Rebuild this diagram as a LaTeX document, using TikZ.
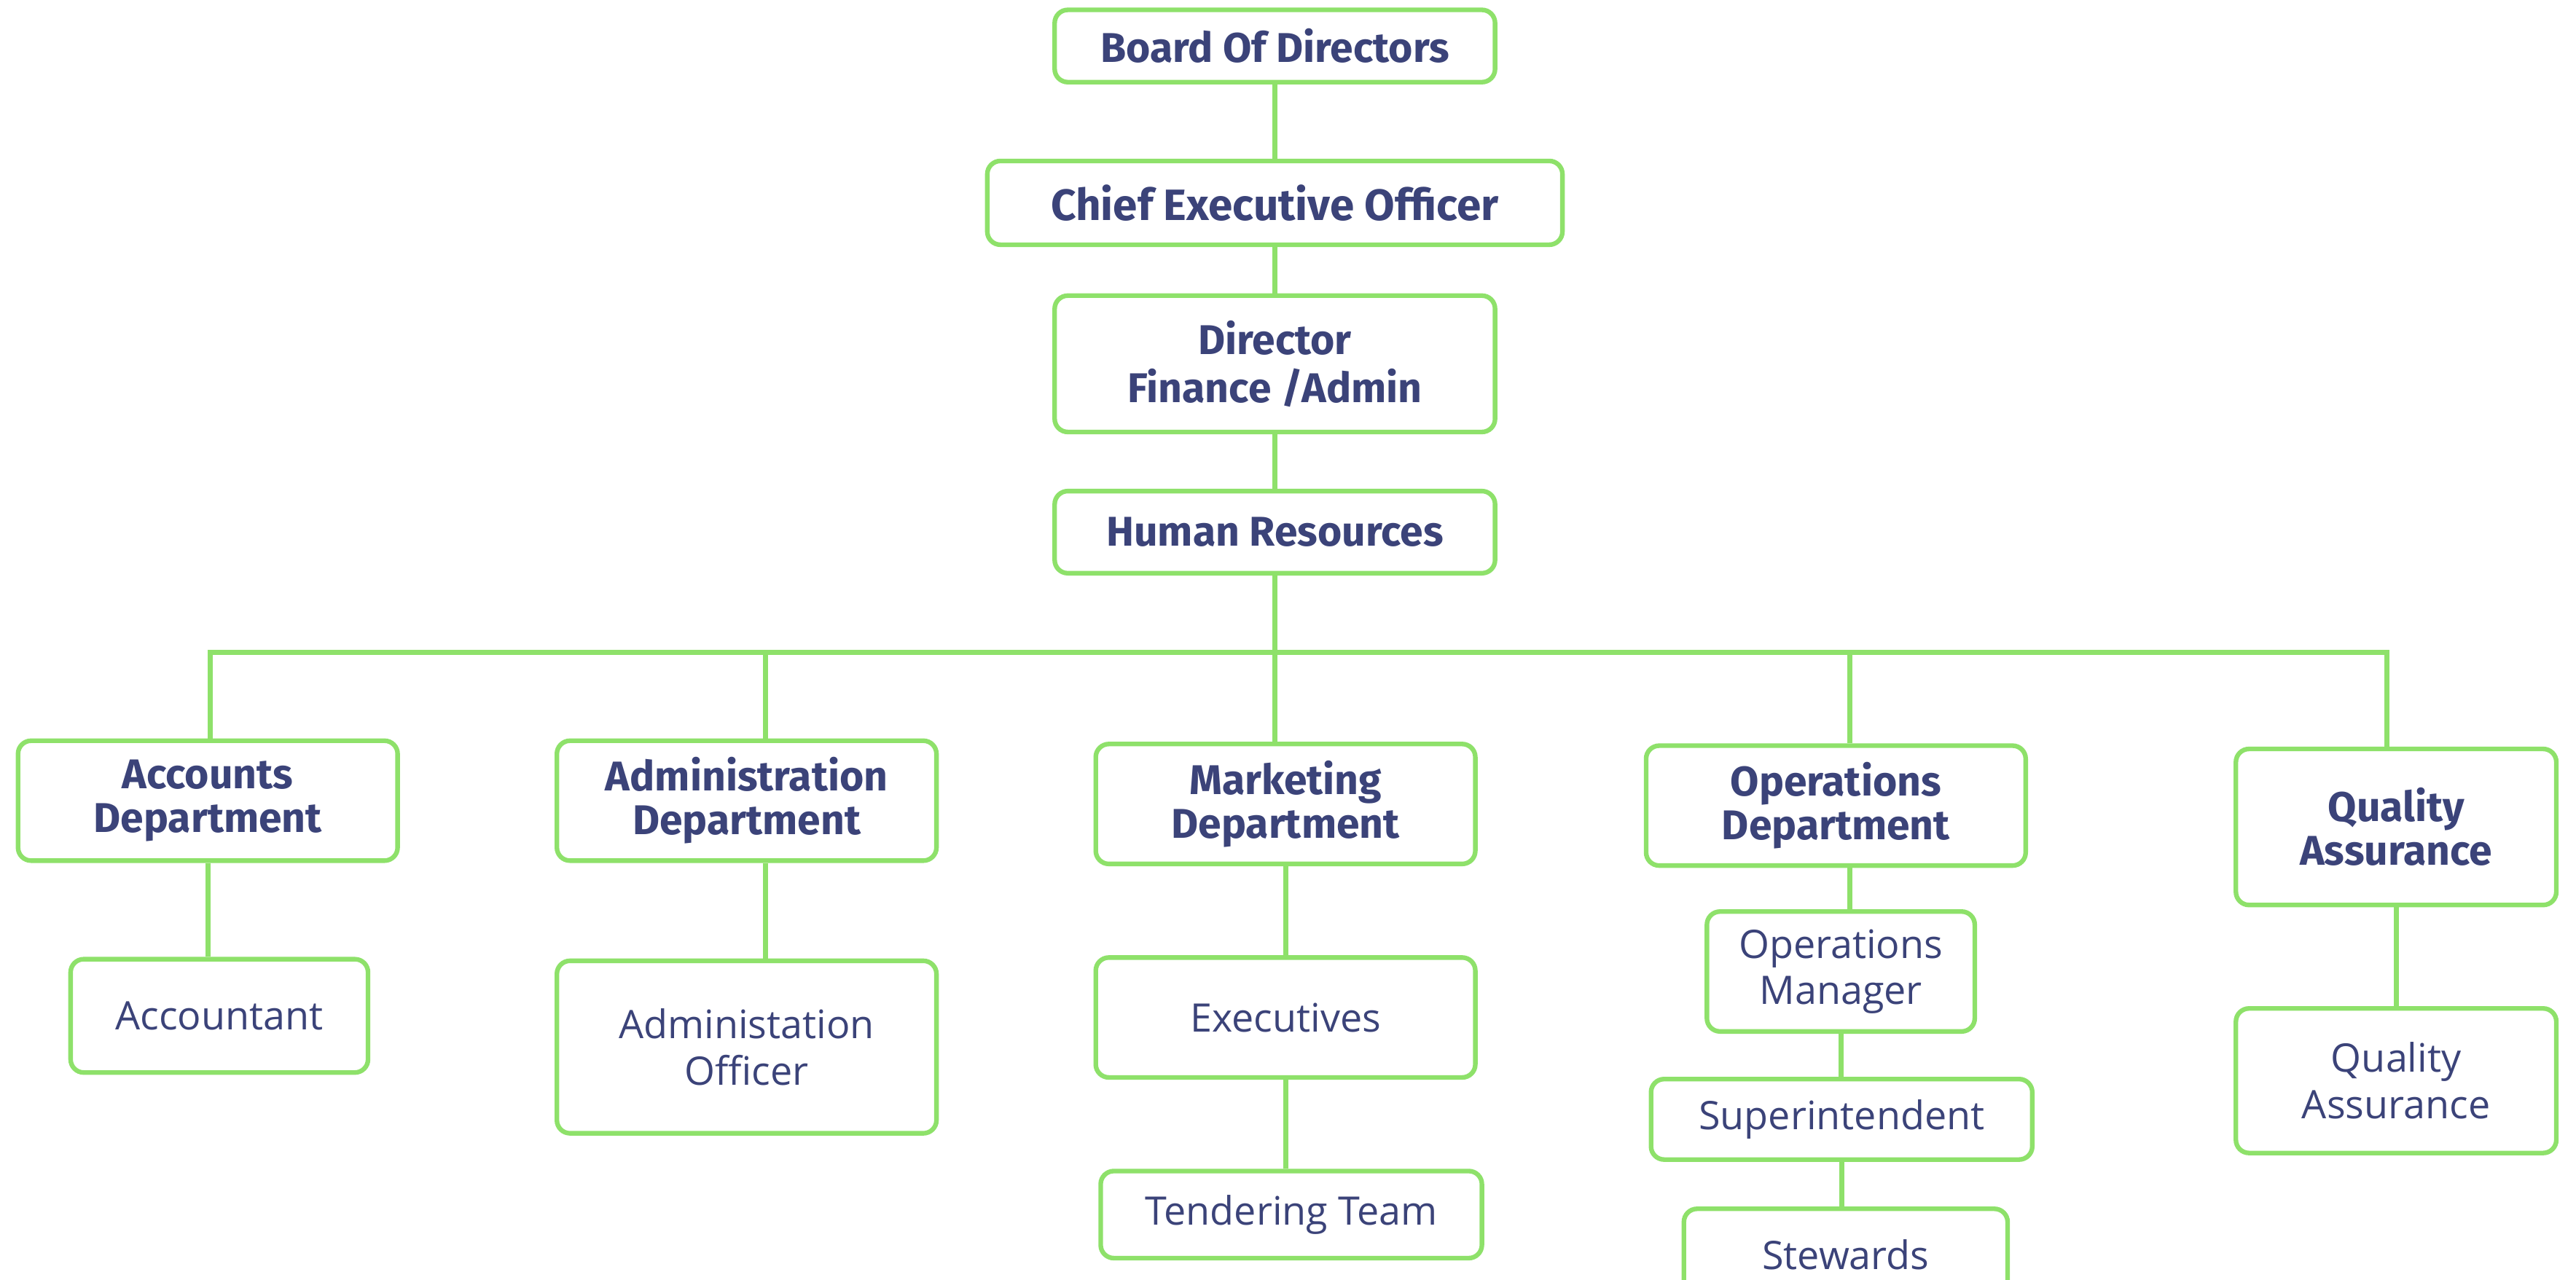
\documentclass[tikz,border=0pt]{standalone}
\usepackage{fontspec}
\setmainfont{Open Sans}
\newfontfamily\headfont{Fira Sans}
\definecolor{leaf}{HTML}{8EE16A}
\definecolor{ink}{HTML}{3B4379}

\begin{document}
\begin{tikzpicture}[x=0.025cm,y=-0.025cm,
    box/.style={draw=leaf,line width=2pt,rounded corners=0.2cm,fill=white,
                text=ink,align=center,inner sep=0pt},
    wh/.style 2 args={minimum width=#1,minimum height=#2},
    head/.style={box,font=\headfont\bfseries\fontsize{18}{19}\selectfont},
    sub/.style={box,font=\fontsize{17}{20}\selectfont},
    link/.style={draw=leaf,line width=2.2pt}
   ]
\useasboundingbox (0,0) rectangle (1568,779);

% top of the chart
\node[head,wh={6.7cm}{1.1cm}] (board) at (776,28) {Board Of Directors};
\node[head,wh={8.75cm}{1.275cm},font=\headfont\bfseries\fontsize{19}{20}\selectfont] (ceo) at (776,123.5) {Chief Executive Officer};
\node[head,wh={6.7cm}{2.075cm},font=\headfont\bfseries\fontsize{18}{21}\selectfont] (dir) at (776,221.5) {Director\\Finance /Admin};
\node[head,wh={6.7cm}{1.25cm}] (hr) at (776,324) {Human Resources};

% departments
\node[head,wh={5.775cm}{1.825cm}] (acc) at (126.5,487.5) {Accounts\\Department};
\node[head,wh={5.775cm}{1.825cm}] (adm) at (454.5,487.5) {Administration\\Department};
\node[head,wh={5.775cm}{1.825cm}] (mkt) at (782.5,489.5) {Marketing\\Department};
\node[head,wh={5.775cm}{1.825cm}] (ops) at (1117.5,490.5) {Operations\\Department};
\node[head,wh={4.875cm}{2.375cm}] (qa) at (1458.5,503.5) {Quality\\Assurance};

% staff
\node[sub,wh={4.525cm}{1.725cm}] (accnt) at (133.5,618.5) {Accountant};
\node[sub,wh={5.775cm}{2.625cm}] (admo) at (454.5,637.5) {Administation\\Officer};
\node[sub,wh={5.775cm}{1.825cm}] (exe) at (782.5,619.5) {Executives};
\node[sub,wh={5.8cm}{1.325cm}] (tend) at (786,739.5) {Tendering Team};
\node[sub,wh={4.075cm}{1.825cm}] (opm) at (1120.5,591.5) {Operations\\Manager};
\node[sub,wh={5.8cm}{1.225cm}] (sup) at (1121,681.5) {Superintendent};
\node[sub,wh={4.925cm}{1.4cm}] (stew) at (1123.5,764) {Stewards};
\node[sub,wh={4.875cm}{2.2cm}] (qas) at (1458.5,658) {Quality\\Assurance};

% bus
\coordinate (b1) at (128,397);
\coordinate (b2) at (466,397);
\coordinate (b3) at (776,397);
\coordinate (b4) at (1126,397);
\coordinate (b5) at (1453,397);

\path[link] (board) -- (ceo);
\path[link] (ceo) -- (dir);
\path[link] (dir) -- (hr);
\path[link] (hr.south) -- (b3);
\path[link,line cap=rect] (b1) -- (b5);
\foreach \b/\d in {b1/acc,b2/adm,b3/mkt,b4/ops,b5/qa}
  \path[link] (\b) -- (\b |- \d.north);
\path[link] (acc.south) -- (acc.south |- accnt.north);
\path[link] (adm.south -| b2) -- (admo.north -| b2);
\path[link] (mkt.south) -- (mkt.south |- exe.north);
\path[link] (exe.south) -- (exe.south |- tend.north);
\path[link] (ops.south -| b4) -- (opm.north -| b4);
\path[link] (opm.south) -- (opm.south |- sup.north);
\path[link] (sup.south) -- (sup.south |- stew.north);
\path[link] (qa.south) -- (qa.south |- qas.north);
\end{tikzpicture}
\end{document}
